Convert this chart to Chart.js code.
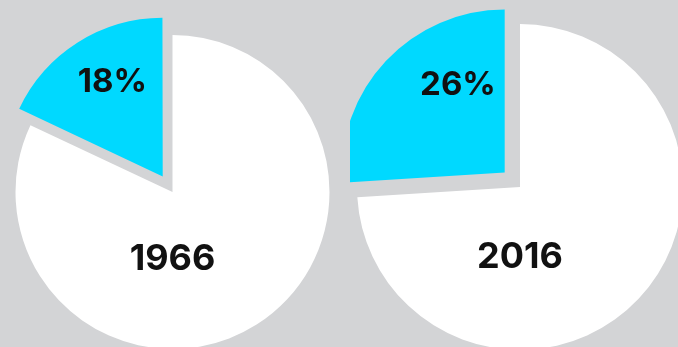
<!DOCTYPE html>
<html>
<head>
<meta charset="utf-8">
<script src="https://cdn.jsdelivr.net/npm/chart.js@4"></script>
<style>
  html, body { margin: 0; padding: 0; }
  body { width: 678px; height: 347px; overflow: hidden; background: #d3d4d6; position: relative; }
  canvas { position: absolute; }
</style>
</head>
<body>
<canvas id="pie1966" width="345" height="384" style="left:0px;top:0px"></canvas>
<canvas id="pie2016" width="340" height="374" style="left:350px;top:0px"></canvas>
<script>
const years = ['1966', '2016'];
const categories = ['Other', 'Share'];
const shareValues = [18, 26];
const otherValues = [82, 74];
const shareLabels = ['18%', '26%'];

const CYAN = '#00d9ff';
const WHITE = '#ffffff';

const labelPlugin = {
  id: 'pieLabels',
  afterDatasetsDraw(chart, args, opts) {
    const ctx = chart.ctx;
    const meta = chart.getDatasetMeta(0);
    const base = meta.data[0];
    const slice = meta.data[1];
    const p = slice.getProps(['x', 'y', 'startAngle', 'endAngle', 'outerRadius', 'circumference'], true);
    const off = (slice.options.offset || 0) / 4;
    const half = (p.startAngle + p.endAngle) / 2;
    const fix = 1 - Math.sin(Math.min(Math.PI, p.circumference));
    const shift = off * (1 + fix);
    const cx = p.x + Math.cos(half) * shift;
    const cy = p.y + Math.sin(half) * shift;
    const a = opts.labelAngle * Math.PI / 180;
    const d = opts.labelDist * p.outerRadius;
    ctx.save();
    ctx.fillStyle = '#111111';
    ctx.textAlign = 'center';
    ctx.textBaseline = 'middle';
    ctx.font = '700 ' + opts.pctSize + 'px Inter';
    ctx.fillText(opts.pct, cx + Math.cos(a) * d, cy + Math.sin(a) * d);
    const b = base.getProps(['x', 'y', 'outerRadius'], true);
    ctx.font = '700 ' + opts.yearSize + 'px Inter';
    ctx.fillText(opts.year, b.x, b.y + opts.yearDist * b.outerRadius);
    ctx.restore();
  }
};

function makePie(id, i, radius, offset, labelDist) {
  new Chart(document.getElementById(id), {
    type: 'pie',
    data: {
      labels: categories,
      datasets: [{
        data: [otherValues[i], shareValues[i]],
        backgroundColor: [WHITE, CYAN],
        borderWidth: 0,
        offset: [0, offset],
        hoverOffset: 0,
        clip: false
      }]
    },
    options: {
      responsive: false,
      animation: false,
      events: [],
      radius: radius,
      layout: { padding: 0 },
      plugins: {
        legend: { display: false },
        tooltip: { enabled: false },
        pieLabels: {
          pct: shareLabels[i],
          year: years[i],
          labelAngle: 242,
          labelDist: labelDist,
          yearDist: 0.43,
          pctSize: 33,
          yearSize: 36
        }
      }
    },
    plugins: [labelPlugin]
  });
}

makePie('pie1966', 0, 157, 73, 0.67);
makePie('pie2016', 1, 163, 84, 0.61);
</script>
</body>
</html>
